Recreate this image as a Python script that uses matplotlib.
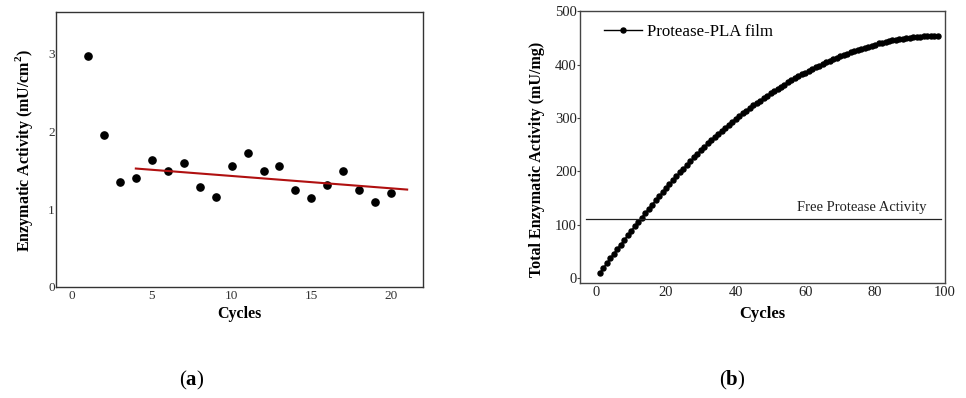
import matplotlib
matplotlib.use("Agg")
import matplotlib.pyplot as plt
import numpy as np

plt.rcParams['font.family'] = ['Liberation Serif', 'DejaVu Serif']
plt.rcParams['mathtext.fontset'] = 'custom'
plt.rcParams['mathtext.rm'] = 'Liberation Serif'
plt.rcParams['mathtext.bf'] = 'Liberation Serif:bold'

# (a) activity per cycle
cycles_a = list(range(1, 21))
activity_a = [2.97, 1.95, 1.35, 1.40, 1.63, 1.49, 1.59, 1.28, 1.16, 1.55,
              1.72, 1.49, 1.55, 1.25, 1.14, 1.31, 1.49, 1.25, 1.09, 1.20]
trend_x = [4, 21]
trend_y = [1.52, 1.25]

# (b) cumulative activity
cycles_b = list(range(1, 99))
total_b = [10, 19, 28, 37, 46, 54.5, 63, 71.5, 80, 88.5,
           97, 105, 113.5, 121.5, 129.5, 137.5, 145.5, 153, 161, 168.5,
           176, 183.5, 191, 198, 205, 212, 219, 226, 233, 239.5,
           246, 252.5, 258.5, 264.5, 270.5, 276.5, 282, 287.5, 293, 298.5,
           303.5, 308.5, 313.5, 318.5, 323.5, 328, 332.5, 337, 341.5, 346,
           350.5, 354.5, 358.5, 362.5, 366.5, 370.5, 374.5, 378, 381.5, 385,
           388.5, 392, 395, 398, 401, 404, 407, 410, 413, 415.5,
           418, 420.5, 423, 425.5, 427.5, 429.5, 431.5, 433.5, 435.5, 437.5,
           439.5, 441, 442.5, 444, 445.5, 446.5, 447.5, 448.5, 449.5, 450.5,
           451.5, 452, 452.5, 453, 453.5, 454, 454, 454]
free_activity = 110.5

fig = plt.figure(figsize=(9.66, 3.98), dpi=100)
fig.patch.set_facecolor("white")

# ---- panel (a)
ax1 = fig.add_axes([0.058, 0.279, 0.380, 0.691])
ax1.plot(cycles_a, activity_a, 'o', color='black', markersize=5.2)
ax1.plot(trend_x, trend_y, color='#b01010', linewidth=1.5)
ax1.set_xlim(-1, 22)
ax1.set_ylim(0, 3.53)
ax1.set_xticks([0, 5, 10, 15, 20])
ax1.set_yticks([0, 1, 2, 3])
ax1.tick_params(axis='both', length=0, labelsize=9.5, labelcolor='#333333')
ax1.tick_params(axis='x', pad=2)
ax1.tick_params(axis='y', pad=1)
ax1.set_xlabel("Cycles", fontsize=11.5, fontweight='bold', labelpad=3)
ax1.set_ylabel(r"Enzymatic Activity (mU/cm$^{\mathbf{2}}$)", fontsize=11.5,
               fontweight='bold')
ax1.yaxis.set_label_coords(-0.058, 0.495)
for s in ax1.spines.values():
    s.set_color('#333333')
    s.set_linewidth(1.0)

# ---- panel (b)
ax2 = fig.add_axes([0.600, 0.289, 0.378, 0.683])
ax2.plot(cycles_b, total_b, '-o', color='black', markersize=3.6, linewidth=1.0,
         label='Protease-PLA film')
ax2.plot([-3, 99], [free_activity, free_activity], color='#222222', linewidth=0.9)
ax2.text(94.7, free_activity + 9, "Free Protease Activity", ha='right', va='bottom',
         fontsize=10.5, color='#222222')
ax2.set_xlim(-4.8, 99.6)
ax2.set_ylim(-9, 500)
ax2.set_xticks([0, 20, 40, 60, 80, 100])
ax2.set_yticks([0, 100, 200, 300, 400, 500])
ax2.tick_params(axis='both', length=2, labelsize=10.5, labelcolor='#222222', color='#444444')
ax2.tick_params(axis='x', length=0, pad=2)
ax2.tick_params(axis='y', pad=0)
ax2.set_xlabel("Cycles", fontsize=12, fontweight='bold', labelpad=5)
ax2.set_ylabel("Total Enzymatic Activity (mU/mg)", fontsize=11.5, fontweight='bold')
ax2.yaxis.set_label_coords(-0.096, 0.456)
for s in ax2.spines.values():
    s.set_color('#444444')
    s.set_linewidth(1.0)
leg = ax2.legend(loc='upper left', frameon=False, fontsize=12.2, handlelength=2.2,
                 handletextpad=0.3, borderaxespad=0.3, bbox_to_anchor=(0.035, 0.995))

# panel labels
fig.text(0.198, 0.043, r"($\mathbf{a}$)", ha='center', va='center', fontsize=15)
fig.text(0.758, 0.043, r"($\mathbf{b}$)", ha='center', va='center', fontsize=15)

fig.savefig("out.png", dpi=100)
